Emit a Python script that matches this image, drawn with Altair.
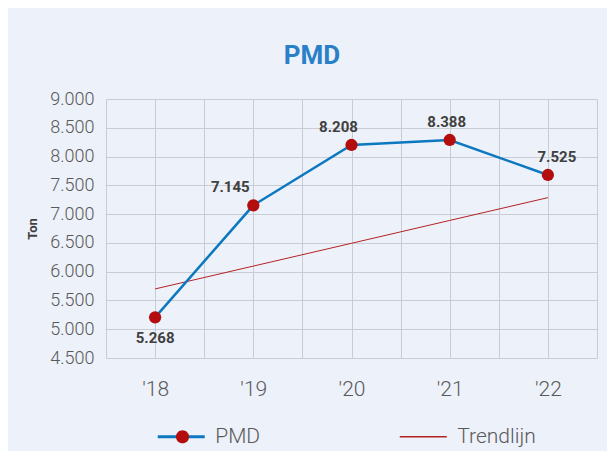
import json
import altair as alt
import pandas as pd

# ---- data ----
years = ["'18", "'19", "'20", "'21", "'22"]
pmd_values = [5207, 7153, 8201, 8288, 7680]
pmd_labels = ["5.268", "7.145", "8.208", "8.388", "7.525"]
trend_values = [5700, 6097, 6493, 6890, 7286]
y_ticks = [4500, 5000, 5500, 6000, 6500, 7000, 7500, 8000, 8500, 9000]
x_ticks = [-0.5, 0, 0.5, 1, 1.5, 2, 2.5, 3, 3.5, 4, 4.5]

idx = list(range(len(years)))
pmd_df = pd.DataFrame({"idx": idx, "year": years, "value": pmd_values,
                       "label": pmd_labels, "series": "PMD", "marker": "PMD"})
trend_df = pd.DataFrame({"idx": idx, "year": years, "value": trend_values,
                         "series": "Trendlijn"})

# ---- styles ----
BLUE = "#0b78bf"
RED_PT = "#b30d0d"
RED_TREND = "#b52222"
GRID = "#c9ccd4"
BG = "#edf1fa"
FONT = "Roboto"

label_offsets = {"'18": (0, 21), "'19": (-23, -18), "'20": (-13, -18),
                 "'21": (-3, -18), "'22": (9, -18)}

label_expr = "datum.value % 1 === 0 ? " + json.dumps(years) + "[datum.value] : ''"

x_enc = alt.X("idx:Q",
              scale=alt.Scale(domain=[-0.5, 4.5], nice=False, zero=False),
              axis=alt.Axis(values=x_ticks, labelExpr=label_expr, grid=True,
                            ticks=False, domain=False, title=None,
                            labelOverlap=False, labelFlush=False,
                            labelFontSize=21, labelPadding=20,
                            labelColor="#595959", labelFont=FONT,
                            labelFontWeight=300))
y_enc = alt.Y("value:Q",
              scale=alt.Scale(domain=[4500, 9000], nice=False, zero=False),
              axis=alt.Axis(values=y_ticks,
                            labelExpr="replace(format(datum.value, ',.0f'), ',', '.')",
                            grid=True, ticks=False, domain=False,
                            title="Ton", titleFontSize=13, titleFontWeight="bold",
                            titleColor="#404040", titleFont=FONT, titlePadding=10,
                            labelFontSize=18, labelPadding=12,
                            labelColor="#595959", labelFont=FONT,
                            labelFontWeight=300))

LINE_PATH = "M-1,0L1,0"
CIRCLE_PATH = "M-0.28,0A0.28,0.28 0 1,1 0.28,0A0.28,0.28 0 1,1 -0.28,0Z"

line_legend = alt.Legend(
    title=None, orient="none", legendX=53, legendY=327,
    direction="horizontal", columns=2, symbolType=LINE_PATH, symbolSize=2209,
    symbolOffset=11.75,
    labelFontSize=21, labelColor="#595959", labelFont=FONT, labelFontWeight=300,
    labelOffset=23.5, columnPadding=135, padding=0,
    symbolStrokeWidth=alt.ExprRef(expr="datum.value === 'PMD' ? 3 : 1.5"))

point_legend = alt.Legend(
    title=None, orient="none", legendX=53, legendY=314,
    direction="horizontal", columns=2, symbolType=CIRCLE_PATH, symbolSize=2209,
    labelExpr="''", labelFontSize=21, labelColor="transparent", labelFont=FONT,
    labelOffset=8, padding=0, symbolStrokeWidth=0)

stroke_enc = alt.Stroke("series:N",
                        scale=alt.Scale(domain=["PMD", "Trendlijn"],
                                        range=[BLUE, RED_TREND]),
                        legend=line_legend)

trend_line = alt.Chart(trend_df).mark_line(strokeWidth=1).encode(
    x=x_enc, y=y_enc, stroke=stroke_enc)

pmd_line = alt.Chart(pmd_df).mark_line(strokeWidth=2.5).encode(
    x=x_enc, y=y_enc, stroke=stroke_enc)

pmd_points = alt.Chart(pmd_df).mark_circle(size=150, opacity=1).encode(
    x=x_enc, y=y_enc,
    fill=alt.Fill("marker:N",
                  scale=alt.Scale(domain=["PMD"], range=[RED_PT]),
                  legend=point_legend))

text_layers = []
for yr in years:
    dx, dy = label_offsets[yr]
    text_layers.append(
        alt.Chart(pmd_df).transform_filter(alt.datum.year == yr)
        .mark_text(dx=dx, dy=dy, fontSize=15, fontWeight="bold",
                   color="#404040", font=FONT, align="center",
                   baseline="middle")
        .encode(x=x_enc, y=y_enc, text="label:N"))

chart = alt.layer(trend_line, pmd_line, pmd_points, *text_layers).properties(
    width=491, height=259,
    autosize=alt.AutoSizeParams(type="none"),
    padding={"left": 98, "top": 91, "right": 10, "bottom": 93},
    title=alt.Title("PMD", fontSize=26, fontWeight="bold", color="#2a80c8",
                    font=FONT, anchor="middle", frame="bounds", offset=21),
).configure(background=BG).configure_view(strokeWidth=0).configure_axis(
    gridColor=GRID, gridWidth=1, gridOpacity=1)

chart.save("out.html", embed_options={"renderer": "svg", "actions": False})
